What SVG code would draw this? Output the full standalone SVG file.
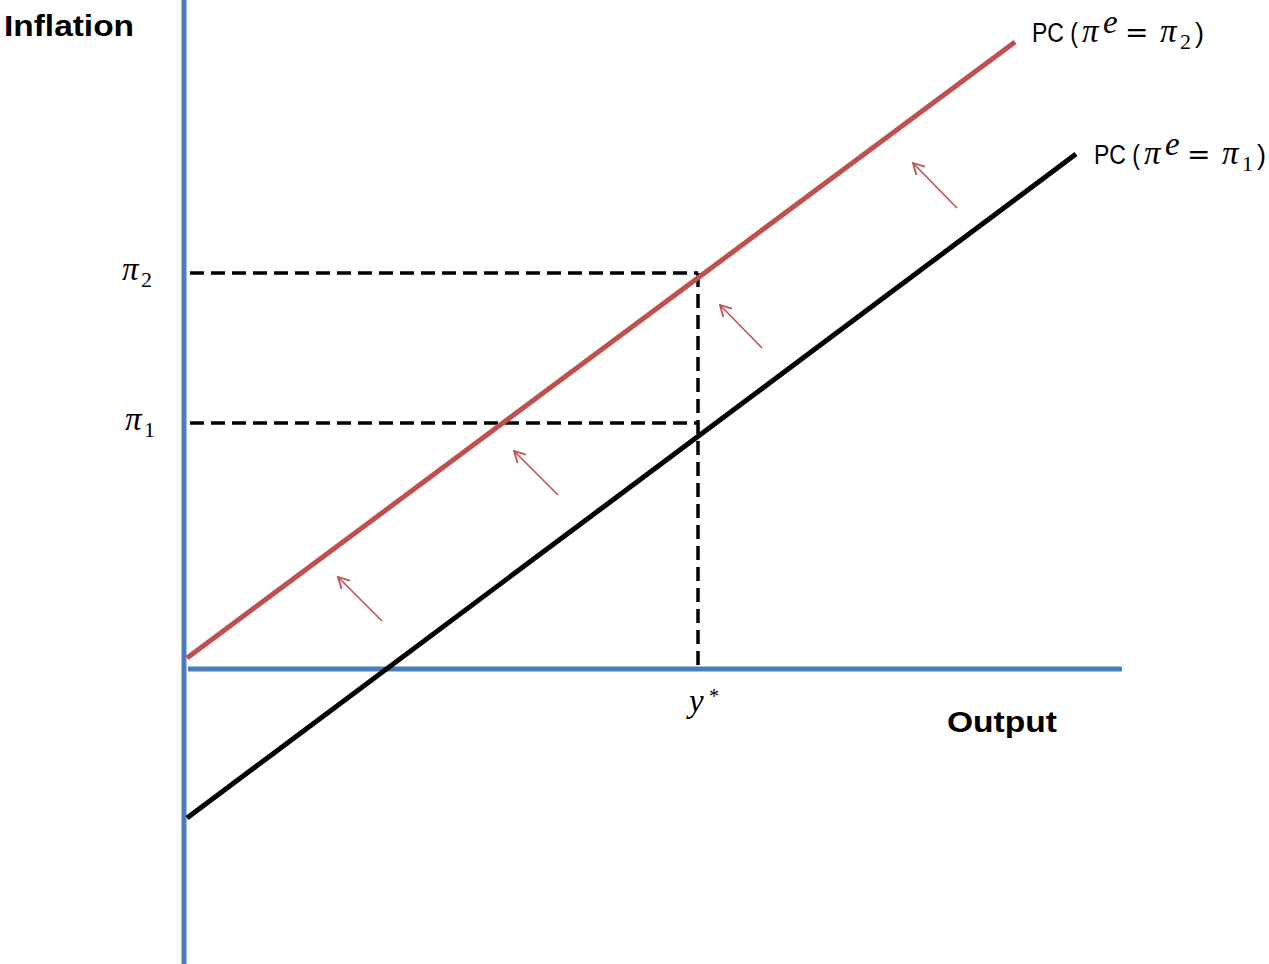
<svg xmlns="http://www.w3.org/2000/svg" width="1269" height="964" viewBox="0 0 1269 964">
<style>
.axis{stroke:#4a7ebb;stroke-width:5;fill:none}
.dash{stroke:#000;stroke-width:3.5;stroke-dasharray:14,7;fill:none}
.arr{stroke:#c0504d;stroke-width:1.6;fill:none;marker-end:url(#ah)}
.lbl{font-family:"Liberation Sans",Arial,sans-serif;font-size:27px;fill:#000}
.m{font-family:"Liberation Serif","DejaVu Serif",serif;font-style:italic;font-size:33px}
.n{font-family:"Liberation Serif","DejaVu Serif",serif}
.eq{font-family:"DejaVu Sans",sans-serif;font-size:28px}
.bold{font-family:"Liberation Sans",Arial,sans-serif;font-weight:bold;font-size:29px;fill:#000}
</style>
<defs>
<marker id="ah" markerWidth="14" markerHeight="14" refX="13" refY="7" orient="auto" markerUnits="userSpaceOnUse" viewBox="0 0 14 14">
<path d="M2,1 L13,7 L2,13" fill="none" stroke="#c0504d" stroke-width="1.8"/>
</marker>
</defs>
<g id="axes">
<line class="axis" x1="184" y1="0" x2="184" y2="964"/>
<line class="axis" x1="188" y1="669" x2="1122" y2="669"/>
</g>
<g id="connectors">
<line class="dash" x1="190" y1="273" x2="698" y2="273"/>
<line class="dash" x1="190" y1="423" x2="698" y2="423"/>
<line class="dash" x1="698" y1="273" x2="698" y2="669"/>
<line class="arr" x1="382" y1="621" x2="338" y2="577"/>
<line class="arr" x1="558" y1="495" x2="514" y2="451"/>
<line class="arr" x1="762" y1="348" x2="720" y2="305"/>
<line class="arr" x1="957" y1="208" x2="913" y2="163"/>
</g>
<g id="pc1">
<line x1="187" y1="818" x2="1076" y2="154" stroke="#000" stroke-width="5"/>
</g>
<g id="pc2">
<line x1="187" y1="658" x2="1015" y2="42" stroke="#c0504d" stroke-width="5"/>
</g>
<g id="labels">
<text class="bold" x="4" y="36" textLength="130" lengthAdjust="spacingAndGlyphs">Inflation</text>
<text class="bold" x="947" y="732" textLength="110" lengthAdjust="spacingAndGlyphs">Output</text>
<g id="label-pc2">
<text class="lbl" x="1032" y="42" textLength="46" lengthAdjust="spacingAndGlyphs">PC (</text>
<text class="m" x="1082" y="42">π</text>
<text class="m" font-size="20" x="1103" y="33">e</text>
<text class="eq" x="1125" y="42">=</text>
<text class="m" x="1160" y="42">π</text>
<text class="n" font-size="22" x="1180" y="49">2</text>
<text class="lbl" x="1195" y="42">)</text>
</g>
<g id="label-pc1">
<text class="lbl" x="1094" y="164" textLength="46" lengthAdjust="spacingAndGlyphs">PC (</text>
<text class="m" x="1144" y="164">π</text>
<text class="m" font-size="20" x="1165" y="155">e</text>
<text class="eq" x="1187" y="164">=</text>
<text class="m" x="1222" y="164">π</text>
<text class="n" font-size="22" x="1242" y="171">1</text>
<text class="lbl" x="1257" y="164">)</text>
</g>
<text class="m" x="122" y="280">π</text>
<text class="n" font-size="22" x="141" y="287">2</text>
<text class="m" x="125" y="430">π</text>
<text class="n" font-size="22" x="144" y="437">1</text>
<text class="m" x="689" y="712">y</text>
<text class="n" font-size="20" x="709" y="703">*</text>
</g>
</svg>
